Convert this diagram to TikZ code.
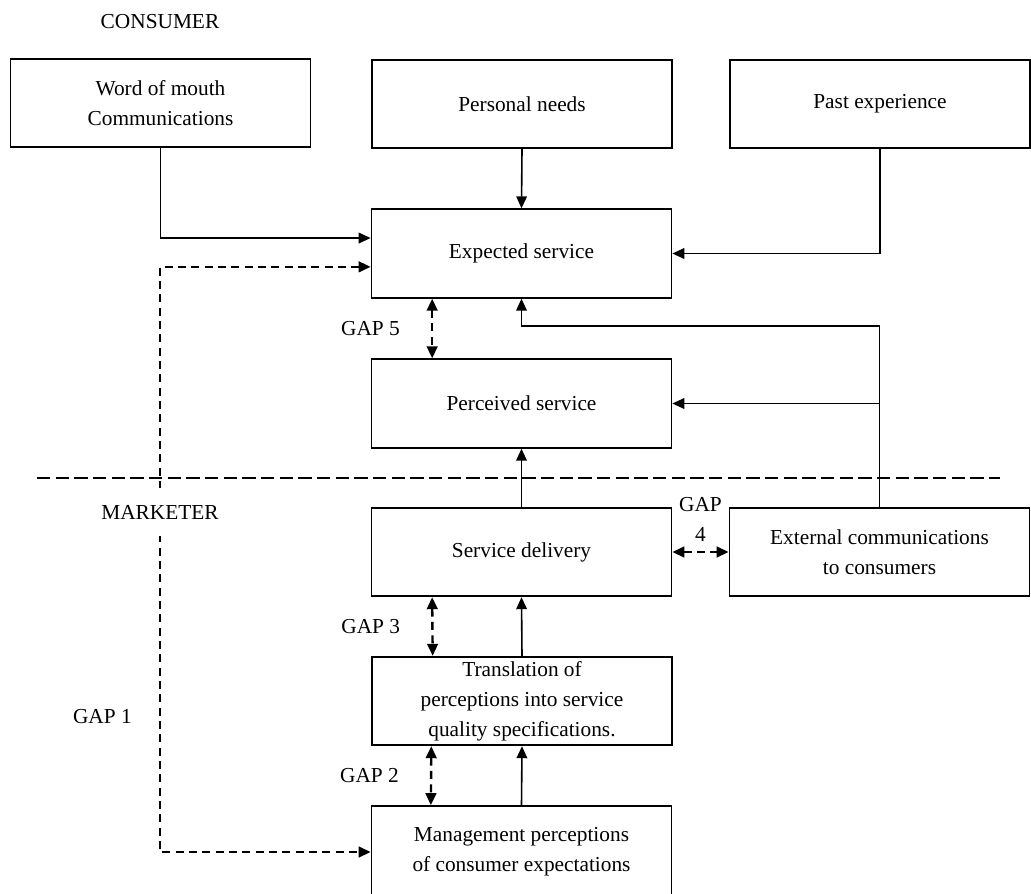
\documentclass[tikz,border=0pt]{standalone}
\usepackage{fontspec}
\setmainfont{Liberation Serif}
\usetikzlibrary{positioning}
\usetikzlibrary{arrows.meta}
\tikzset{box/.style = {draw, line width = 1.3pt, minimum width = 225pt, minimum height = 66.5pt, align = center, inner sep = 2pt}}
\tikzset{conn/.style = {line width = 1.2pt, -{Triangle[length = 9pt, width = 8pt]}}}
\tikzset{gaparr/.style = {line width = 1.8pt, dash pattern = on 6pt off 4pt, {Triangle[length = 9pt, width = 8pt]}-{Triangle[length = 9pt, width = 8pt]}}}
\tikzset{sepline/.style = {line width = 2pt, dash pattern = on 10pt off 4pt}}

\begin{document}
\begin{tikzpicture}[x = 0.75pt, y = -0.75pt, font = \fontsize{16}{22.5}\selectfont]
      \useasboundingbox (0, 0) rectangle (1031, 893);
      \clip (0, 0) rectangle (1031, 893);
      \node (consumer) at (160, 22) {CONSUMER};
      \node [box] (wom) at (160.5, 103) {Word of mouth\\Communications};
      \node [box] (needs) at (522, 104) {Personal needs};
      \node [box] (past) at (880, 104) {Past experience};
      \node [box] (exp) at (521.5, 253.5) {Expected service};
      \node [box] (perc) at (521.5, 403.5) {Perceived service};
      \node [box] (deliv) at (521.5, 552) {Service delivery};
      \node [box] (ext) at (879.5, 552) {External communications\\to consumers};
      \node [box] (trans) at (522, 701) {Translation of\\perceptions into service\\quality specifications.};
      \node [box, minimum height = 69pt] (mgmt) at (521.5, 852) {Management perceptions\\of consumer expectations};
      \coordinate (gapone) at (160, 717);
      \draw [sepline] (37, 478) -- (1000, 478);
      \draw [conn] (needs.south) -- (exp.north);
      \draw [conn] (wom.south) |- ([yshift = 11.6pt]exp.west);
      \draw [conn] (past.south) |- (exp.east);
      \draw [conn] (ext.north) -- ++(0, -181) -| (exp.south);
      \draw [conn] (ext.north |- perc.east) -- (perc.east);
      \draw [conn] (deliv.north) -- (perc.south);
      \draw [conn] (trans.north) -- (deliv.south);
      \draw [conn] (mgmt.north) -- (trans.south);
      \draw [gaparr] ([xshift = -67pt]exp.south) -- ([xshift = -67pt]perc.north)
      node [midway, left = 20pt] {GAP 5};
      \draw [gaparr] ([xshift = -67pt]deliv.south) -- ([xshift = -67pt]trans.north)
      node [midway, left = 20pt] {GAP 3};
      \draw [gaparr] ([xshift = -68pt]trans.south) -- ([xshift = -68pt]mgmt.north)
      node [midway, left = 20pt] {GAP 2};
      \draw [gaparr] (deliv.east) -- (ext.west)
      node [midway, above = 4pt, align = center] {GAP\\4};
      \draw [gaparr] ([yshift = -10pt]exp.west) -| (gapone)
      node [left = 17pt] {GAP 1} |- (mgmt.west);
      \node [fill = white, inner xsep = 2pt, inner ysep = 13pt] (marketer) at (160, 512) {MARKETER};
    \end{tikzpicture}
\end{document}
